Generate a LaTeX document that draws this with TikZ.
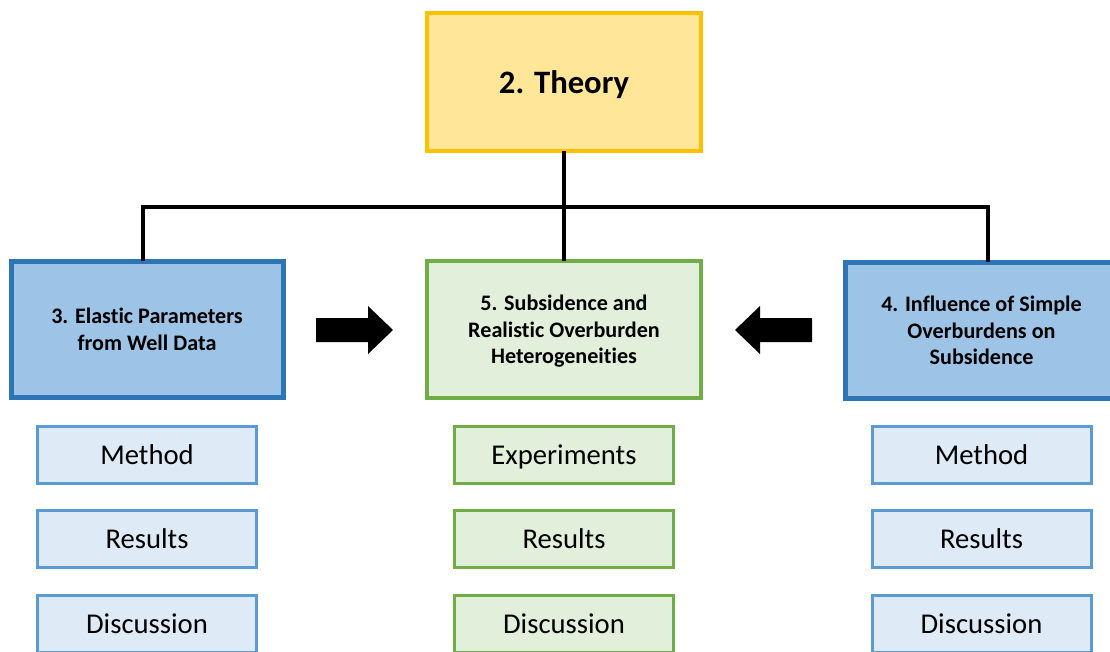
\documentclass[tikz,border=0pt]{standalone}
\usepackage{fontspec}
\setmainfont[Ligatures=NoCommon]{Carlito}
\usetikzlibrary{positioning}
\definecolor{theoryfill}{HTML}{FFE699}
\definecolor{theoryline}{HTML}{FFC000}
\definecolor{bluefill}{HTML}{9DC3E6}
\definecolor{blueline}{HTML}{2E75B6}
\definecolor{greenfill}{HTML}{E2EFDA}
\definecolor{greenline}{HTML}{70AD47}
\definecolor{lbluefill}{HTML}{DEEBF7}
\definecolor{lblueline}{HTML}{5B9BD5}
\tikzset{
  box/.style={rectangle, inner sep=0pt, outer sep=0pt, align=center, text=black},
  theorybox/.style={box, draw=theoryline, fill=theoryfill, line width=3pt,
    minimum width=274*0.75pt, minimum height=138*0.75pt, text depth=0pt,
    font=\fontsize{24.5}{30}\selectfont\bfseries},
  chapblue/.style={box, draw=blueline, fill=bluefill, line width=3.75pt,
    minimum width=272*0.75pt, minimum height=136*0.75pt, text depth=-2.5pt,
    font=\fontsize{16.6}{20}\selectfont\bfseries},
  chapgreen/.style={box, draw=greenline, fill=greenfill, line width=3pt,
    minimum width=274*0.75pt, minimum height=137*0.75pt, text depth=-1pt,
    font=\fontsize{16.6}{20}\selectfont\bfseries},
  part/.style={box, line width=2.25pt,
    minimum width=219*0.75pt, minimum height=57*0.75pt,
    text height=14.5pt, text depth=0pt,
    font=\fontsize{21.5}{26}\selectfont},
  partblue/.style={part, draw=lblueline, fill=lbluefill},
  partgreen/.style={part, draw=greenline, fill=greenfill},
  conn/.style={draw=black, line width=3pt, line join=miter},
  blockarrow/.style={fill=black, draw=none}
}
\begin{document}
\begin{tikzpicture}[x=0.75pt, y=-0.75pt]
  \useasboundingbox (0,0) rectangle (1110,652);
  \clip (0,0) rectangle (1110,652);

  % top level
  \node[theorybox] (theory) at (564,82) {2. Theory};

  % chapters
  \node[chapblue]  (elastic) at (147,329.5) {3. Elastic Parameters\\from Well Data};
  \node[chapgreen] (subs)    at (564,329.5) {5. Subsidence and\\Realistic Overburden\\Heterogeneities};
  \node[chapblue]  (simple)  at (981.5,330.5) {4. Influence of Simple\\Overburdens on\\Subsidence};

  % tree connectors
  \coordinate (barL) at (143,207);
  \coordinate (barR) at (988,207);
  \draw[conn] (theory.south) -- (subs.north);
  \draw[conn] (barL |- elastic.north) -- (barL) -- (barR) -- (barR |- simple.north);

  % block arrows pointing to the middle chapter
  \coordinate (aL) at (316,330);
  \coordinate (aR) at (812,330);
  \fill[blockarrow] (aL) ++(0,-12) -- ++(52,0) -- ++(0,-12) -- ++(25,24)
    -- ++(-25,24) -- ++(0,-12) -- ++(-52,0) -- cycle;
  \fill[blockarrow] (aR) ++(0,-12) -- ++(-52,0) -- ++(0,-12) -- ++(-25,24)
    -- ++(25,24) -- ++(0,-12) -- ++(52,0) -- cycle;

  % sections under each chapter
  \node[partblue]  (m3) at (147,455) {Method};
  \node[partblue]  (r3) at (147,539) {Results};
  \node[partblue]  (d3) at (147,624) {Discussion};

  \node[partgreen] (e5) at (564,455) {Experiments};
  \node[partgreen] (r5) at (564,539) {Results};
  \node[partgreen] (d5) at (564,624) {Discussion};

  \node[partblue]  (m4) at (981.5,455) {Method};
  \node[partblue]  (r4) at (981.5,539) {Results};
  \node[partblue]  (d4) at (981.5,624) {Discussion};
\end{tikzpicture}
\end{document}
